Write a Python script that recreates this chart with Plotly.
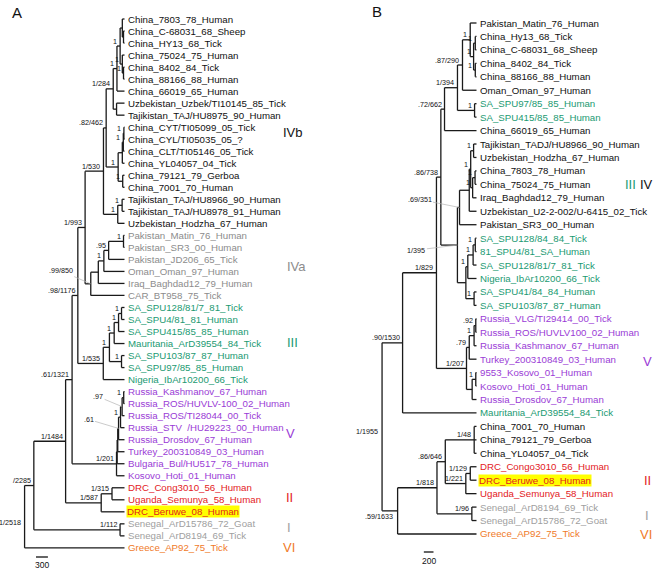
import re
import plotly.graph_objects as go

# ---------------- data ----------------
LEAVES_A = [
    "China_7803_78_Human", "China_C-68031_68_Sheep", "China_HY13_68_Tick", "China_75024_75_Human",
    "China_8402_84_Tick", "China_88166_88_Human", "China_66019_65_Human",
    "Uzbekistan_Uzbek/TI10145_85_Tick", "Tajikistan_TAJ/HU8975_90_Human",
    "China_CYT/TI05099_05_Tick", "China_CYL/TI05035_05_?", "China_CLT/TI05146_05_Tick",
    "China_YL04057_04_Tick", "China_79121_79_Gerboa", "China_7001_70_Human",
    "Tajikistan_TAJ/HU8966_90_Human", "Tajikistan_TAJ/HU8978_91_Human", "Uzbekistan_Hodzha_67_Human",
    "Pakistan_Matin_76_Human", "Pakistan_SR3_00_Human", "Pakistan_JD206_65_Tick",
    "Oman_Oman_97_Human", "Iraq_Baghdad12_79_Human", "CAR_BT958_75_Tick",
    "SA_SPU128/81/7_81_Tick", "SA_SPU4/81_81_Human", "SA_SPU415/85_85_Human",
    "Mauritania_ArD39554_84_Tick", "SA_SPU103/87_87_Human", "SA_SPU97/85_85_Human",
    "Nigeria_IbAr10200_66_Tick",
    "Russia_Kashmanov_67_Human", "Russia_ROS/HUVLV-100_02_Human", "Russia_ROS/TI28044_00_Tick",
    "Russia_STV  /HU29223_00_Human", "Russia_Drosdov_67_Human", "Turkey_200310849_03_Human",
    "Bulgaria_Bul/HU517_78_Human", "Kosovo_Hoti_01_Human",
    "DRC_Cong3010_56_Human", "Uganda_Semunya_58_Human", "DRC_Beruwe_08_Human",
    "Senegal_ArD15786_72_Goat", "Senegal_ArD8194_69_Tick", "Greece_AP92_75_Tick",
]
GROUPS_A = ["IVb"] * 18 + ["IVa"] * 6 + ["III"] * 7 + ["V"] * 8 + ["II"] * 3 + ["I"] * 2 + ["VI"]

LEAVES_B = [
    "Pakistan_Matin_76_Human", "China_Hy13_68_Tick", "China_C-68031_68_Sheep", "China_8402_84_Tick",
    "China_88166_88_Human", "Oman_Oman_97_Human", "SA_SPU97/85_85_Human", "SA_SPU415/85_85_Human",
    "China_66019_65_Human", "Tajikistan_TADJ/HU8966_90_Human", "Uzbekistan_Hodzha_67_Human",
    "China_7803_78_Human", "China_75024_75_Human", "Iraq_Baghdad12_79_Human",
    "Uzbekistan_U2-2-002/U-6415_02_Tick", "Pakistan_SR3_00_Human",
    "SA_SPU128/84_84_Tick", "81_SPU4/81_SA_Human", "SA_SPU128/81/7_81_Tick",
    "Nigeria_IbAr10200_66_Tick", "SA_SPU41/84_84_Human", "SA_SPU103/87_87_Human",
    "Russia_VLG/TI29414_00_Tick", "Russia_ROS/HUVLV100_02_Human", "Russia_Kashmanov_67_Human",
    "Turkey_200310849_03_Human", "9553_Kosovo_01_Human", "Kosovo_Hoti_01_Human",
    "Russia_Drosdov_67_Human", "Mauritania_ArD39554_84_Tick",
    "China_7001_70_Human", "China_79121_79_Gerboa", "China_YL04057_04_Tick",
    "DRC_Congo3010_56_Human", "DRC_Beruwe_08_Human", "Uganda_Semunya_58_Human",
    "Senegal_ArD8194_69_Tick", "Senegal_ArD15786_72_Goat", "Greece_AP92_75_Tick",
]
GROUPS_B = (["IV"] * 6 + ["III"] * 2 + ["IV"] * 8 + ["III"] * 6 + ["V"] * 7 + ["III"]
            + ["IV"] * 3 + ["II"] * 3 + ["I"] * 2 + ["VI"])
HIGHLIGHT = "DRC_Beruwe_08_Human"

# Tree topology (leaf indices), internal nodes as [support/label @ node age]
A_IVB = ("((((((0,(1,2)[@25])[@55],(3,(4,5)[1@25])[1@55])[1@110],6)[1@190],(7,8)[@200])[1/284@284],"
         "((((9,10)[1@15],11)[1@30],12)[@55],(13,14)[1@45])[1@160])[.82/462@462],"
         "((15,16)[1@60],17)[1@170])[1/530@530]")
A_IVA = "(((((18,19)[1@25],20)[.95@400],21)[1@520],22)[@660],23)[.99/850@850]"
A_III = "(((((24,25)[1@75],26)[1@150],27)[1@260],(28,29)[1@75])[1@380],30)[1/535@535]"
A_V = "(((((((31,32)[1@20],33)[.97@60],34)[1@100],35)[.61@150],36)[@170],37)[@185],38)[1/201@201]"
A_II = "((39,40)[1/315@315],41)[1/587@587]"
A_I = "(42,43)[1/112@112]"
TREE_A = ("((((((" + A_IVB + "," + A_IVA + ")[1/993@993]," + A_III + ")[.98/1176@1176],"
          + A_V + ")[.61/1321@1321]," + A_II + ")[1/1484@1484]," + A_I + ")[/2285@2285],44)[1/2518@2518]")

B_N662 = "((((0,((1,2)[1@25],(3,4)[1@25])[1@60])[1@130],5)[.87/290@290],(6,7)[1@40])[1/394@394],8)[.72/662@662]"
B_N351 = "((((9,10)[1@60],((11,12)[1@30],13)[1@80])[1@120],14)[@150],15)[.69/351@351]"
B_SA = "((((16,17)[1@25],18)[1@70],19)[1@180],(20,21)[1@50])[@220]"
B_N207 = "((((22,23)[.92@15],24)[1@50],25)[.79@150],((26,27)[1@15],28)[@90])[1/207@207]"
B_N646 = "((30,31,32)[1/48@48],((33,34)[1/129@129],35)[1/221@221])[.86/646@646]"
TREE_B = ("((((" + B_N662 + ",(" + B_N351 + "," + B_SA + ")[1/395@395])[.86/738@738]," + B_N207
          + ")[1/829@829],29)[.90/1530@1530],((" + B_N646 + ",(36,37)[1/96@96])[1/818@818],38)[.59/1633@1633])[1/1955@1955]")

CLADES_A = [("IVb", "IVb"), ("IVa", "IVa"), ("III", "III"), ("V", "V"), ("II", "II"), ("I", "I"), ("VI", "VI")]
CLADES_B = [("III", "III"), ("IV", "IV"), ("V", "V"), ("II", "II"), ("I", "I"), ("VI", "VI")]
SCALE_A = 300
SCALE_B = 200

# ---------------- style ----------------
COLORS = {"IVb": "#111111", "IV": "#111111", "IVa": "#8c8c8c", "III": "#1b9a72", "V": "#9a3bd6",
          "II": "#e3201e", "I": "#a0a0a0", "VI": "#f07a28"}
LEAF_FONT = "Liberation Sans, Arial, sans-serif"
NODE_FONT = "Liberation Sans Narrow, Arial Narrow, Liberation Sans, sans-serif"
W, H = 654, 572


def parse(s):
    s = re.sub(r"\s+", "", s)
    pos = 0

    def node():
        nonlocal pos
        if s[pos] == "(":
            pos += 1
            kids = [node()]
            while s[pos] == ",":
                pos += 1
                kids.append(node())
            assert s[pos] == ")"
            pos += 1
            label, age = "", 0.0
            if pos < len(s) and s[pos] == "[":
                end = s.index("]", pos)
                label, a = s[pos + 1:end].split("@")
                age = float(a)
                pos = end + 1
            return {"kids": kids, "label": label, "age": age}
        m = re.match(r"\d+", s[pos:])
        pos += len(m.group())
        return {"leaf": int(m.group())}

    return node()


def place(n):
    if "leaf" in n:
        n["x"], n["y"] = 0.0, float(n["leaf"])
        return
    for k in n["kids"]:
        place(k)
    n["x"] = -n["age"]
    n["y"] = (n["kids"][0]["y"] + n["kids"][-1]["y"]) / 2


def segments(n, xs, ys, nodes):
    if "leaf" in n:
        return
    nodes.append(n)
    ks = n["kids"]
    xs += [n["x"], n["x"], None]
    ys += [ks[0]["y"], ks[-1]["y"], None]
    for k in ks:
        xs += [n["x"], k["x"], None]
        ys += [k["y"], k["y"], None]
        segments(k, xs, ys, nodes)


fig = go.Figure()
annotations = []

SPECIAL = {
    "A": {
        "1/2518": dict(xanchor="right", xshift=-2, yshift=-6),
        ".99/850": dict(arrow=(-30, -13)),
        ".97": dict(arrow=(-24, -10)),
        ".61": dict(arrow=(-30, -9)),
    },
    "B": {
        "1/1955": dict(xanchor="right", xshift=-2, yshift=-5),
        ".59/1633": dict(xanchor="right", xshift=-3, yshift=-6),
        ".69/351": dict(arrow=(-40, -8)),
        "1/395": dict(arrow=(-41, 5)),
    },
}

panels = [
    ("A", TREE_A, LEAVES_A, GROUPS_A, "x", "y", 124.5, 25.2, 19.0, 12.02),
    ("B", TREE_B, LEAVES_B, GROUPS_B, "x2", "y2", 476.5, 20.7, 23.0, 13.447),
]

for key, tree_s, leaves, groups, xr, yr, tip_px, upp, y0_px, ysp in panels:
    tree = parse(tree_s)
    place(tree)
    xs, ys, nodes = [], [], []
    segments(tree, xs, ys, nodes)
    fig.add_trace(go.Scatter(x=xs, y=ys, mode="lines", xaxis=xr, yaxis=yr,
                             line=dict(color="#1a1a1a", width=1.3), hoverinfo="skip", showlegend=False))
    for i, (name, g) in enumerate(zip(leaves, groups)):
        a = dict(x=0, y=i, xref=xr, yref=yr, text=name, showarrow=False, xanchor="left",
                 yanchor="middle", xshift=1, font=dict(family=LEAF_FONT, size=9.7, color=COLORS[g]))
        if name == HIGHLIGHT:
            a.update(bgcolor="#ffff00", borderpad=0)
        annotations.append(a)
    for n in nodes:
        if not n["label"]:
            continue
        sp = SPECIAL[key].get(n["label"], {})
        a = dict(x=n["x"], y=n["y"], xref=xr, yref=yr, text=n["label"],
                 font=dict(family=NODE_FONT, size=7.2, color="#111111"))
        if "arrow" in sp:
            ax, ay = sp["arrow"]
            a.update(showarrow=True, ax=ax, ay=ay, arrowhead=0, arrowwidth=0.7,
                     arrowcolor="#b5b5b5", standoff=0, startstandoff=0)
        else:
            a.update(showarrow=False, xanchor=sp.get("xanchor", "right"), yanchor="middle",
                     xshift=sp.get("xshift", -1), yshift=sp.get("yshift", 5))
        annotations.append(a)
    xmin = -tip_px * upp
    xmax = xmin + W * upp
    ymin = -y0_px / ysp
    ymax = ymin + H / ysp
    ax_x = dict(range=[xmin, xmax], domain=[0, 1], visible=False, fixedrange=True)
    ax_y = dict(range=[ymax, ymin], domain=[0, 1], visible=False, fixedrange=True)
    if key == "A":
        fig.update_layout(xaxis=dict(ax_x, anchor="y"), yaxis=dict(ax_y, anchor="x"))
        sb_x0 = -2230
        scale, sb_y = SCALE_A, (557 - y0_px) / ysp
        txt_y = (565 - y0_px) / ysp
    else:
        fig.update_layout(xaxis2=dict(ax_x, anchor="y2"), yaxis2=dict(ax_y, anchor="x2"))
        sb_x0 = -1090
        scale, sb_y = SCALE_B, (552 - y0_px) / ysp
        txt_y = (561 - y0_px) / ysp
    fig.add_trace(go.Scatter(x=[sb_x0, sb_x0 + scale], y=[sb_y, sb_y], mode="lines", xaxis=xr, yaxis=yr,
                             line=dict(color="#111111", width=1.3), hoverinfo="skip", showlegend=False))
    annotations.append(dict(x=sb_x0 + scale / 2, y=txt_y, xref=xr, yref=yr, text=str(scale), showarrow=False,
                            xanchor="center", font=dict(family=NODE_FONT, size=8.5, color="#111111")))


def paper(px, py):
    return px / W, 1 - py / H


CLADE_POS_A = {"IVb": (293, 132), "IVa": (296, 266), "III": (292, 342), "V": (290, 433),
               "II": (289, 497), "I": (289, 527), "VI": (289, 547)}
CLADE_POS_B = {"III": (630, 184), "IV": (646, 184), "V": (647, 361), "II": (647, 480),
               "I": (647, 515), "VI": (646, 534)}
for clades, pos in ((CLADES_A, CLADE_POS_A), (CLADES_B, CLADE_POS_B)):
    for text, g in clades:
        x, y = paper(*pos[text])
        annotations.append(dict(x=x, y=y, xref="paper", yref="paper", text=text, showarrow=False,
                                xanchor="center", yanchor="middle",
                                font=dict(family=LEAF_FONT, size=13, color=COLORS[g])))

for letter, (px, py) in (("A", (17, 13)), ("B", (377, 11))):
    x, y = paper(px, py)
    annotations.append(dict(x=x, y=y, xref="paper", yref="paper", text=letter, showarrow=False,
                            xanchor="center", yanchor="middle",
                            font=dict(family=LEAF_FONT, size=15, color="#111111")))

fig.update_layout(width=W, height=H, margin=dict(l=0, r=0, t=0, b=0), paper_bgcolor="white",
                  plot_bgcolor="rgba(0,0,0,0)", annotations=annotations, showlegend=False)
fig.write_html("out.html", config={"displayModeBar": False},
               post_script="document.body.style.margin='0px';document.body.style.padding='0px';")
